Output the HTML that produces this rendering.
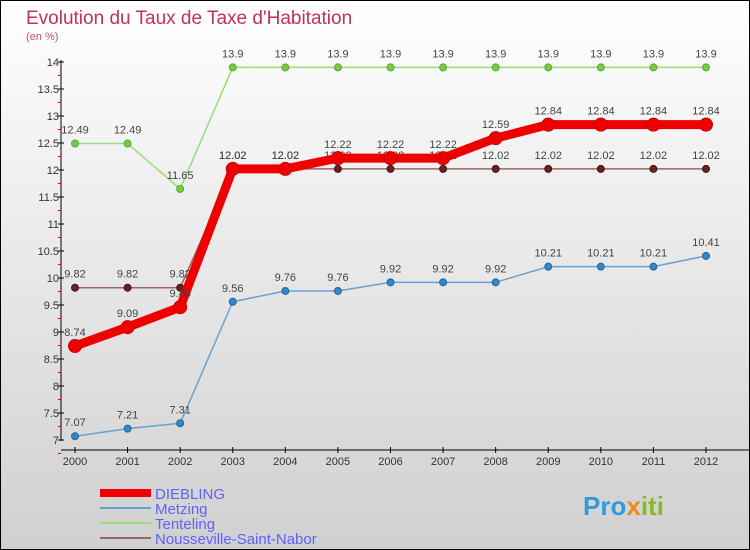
<!DOCTYPE html>
<html><head><meta charset="utf-8"><style>
body{margin:0}
#c{width:750px;height:550px;position:relative;overflow:hidden;font-family:"Liberation Sans",sans-serif}
</style></head><body>
<div id="c">
<svg id="s" width="750" height="550" xmlns="http://www.w3.org/2000/svg">
<defs><linearGradient id="bg" x1="0" y1="0" x2="0" y2="1"><stop offset="0" stop-color="#ffffff"/><stop offset="1" stop-color="#d0d0d0"/></linearGradient></defs>
<rect x="0.5" y="0.5" width="749" height="549" fill="url(#bg)" stroke="#000"/>
<text x="26" y="24" font-size="19" fill="#c03060">Evolution du Taux de Taxe d'Habitation</text>
<text x="26" y="40" font-size="11" fill="#c05080">(en %)</text>
<g id="axes"></g><g id="series"></g>
<g>
<rect x="100" y="489" width="51" height="8" fill="#e00"/>
<text x="155" y="499" font-size="15" fill="#6060ff">DIEBLING</text>
<line x1="100" x2="151" y1="508" y2="508" stroke="#6aa0d0" stroke-width="2"/>
<text x="155" y="514" font-size="15" fill="#6060ff">Metzing</text>
<line x1="100" x2="151" y1="523" y2="523" stroke="#99dd77" stroke-width="2"/>
<text x="155" y="529" font-size="15" fill="#6060ff">Tenteling</text>
<line x1="100" x2="151" y1="538" y2="538" stroke="#996666" stroke-width="2"/>
<text x="155" y="544" font-size="15" fill="#6060ff">Nousseville-Saint-Nabor</text>
</g>
<text x="583" y="515" font-size="26" font-weight="bold" fill="#3399dd">Pro<tspan fill="#ee8822">x</tspan><tspan fill="#88bb22">iti</tspan></text>
</svg>
</div>
<script>
const years=[2000,2001,2002,2003,2004,2005,2006,2007,2008,2009,2010,2011,2012];
const yTicks=[7,7.5,8,8.5,9,9.5,10,10.5,11,11.5,12,12.5,13,13.5,14];
const diebling=[8.74,9.09,9.46,12.02,12.02,12.22,12.22,12.22,12.59,12.84,12.84,12.84,12.84];
const metzing=[7.07,7.21,7.31,9.56,9.76,9.76,9.92,9.92,9.92,10.21,10.21,10.21,10.41];
const tenteling=[12.49,12.49,11.65,13.9,13.9,13.9,13.9,13.9,13.9,13.9,13.9,13.9,13.9];
const nousseville=[9.82,9.82,9.82,12.02,12.02,12.02,12.02,12.02,12.02,12.02,12.02,12.02,12.02];
const NS="http://www.w3.org/2000/svg";
const xs=i=>75+i*(706-75)/(years.length-1);
const ys=v=>440-(v-7)*54;
function mk(t,a,p){const e=document.createElementNS(NS,t);for(const k in a)e.setAttribute(k,a[k]);p.appendChild(e);return e;}
const ax=document.getElementById('axes'),sg=document.getElementById('series');
let e=mk('line',{x1:61,x2:61,y1:60,y2:441,stroke:'#000'},ax);


e=mk('line',{x1:61,x2:750,y1:450,y2:450,stroke:'#000'},ax);


yTicks.forEach(v=>{const y=ys(v);
mk('line',{x1:58,x2:64,y1:y,y2:y,stroke:'#000'},ax);
mk('line',{x1:58,x2:61,y1:y+13.5,y2:y+13.5,stroke:'#e00'},ax);
const t=mk('text',{x:59,y:y+4,'font-size':11,fill:'#333','text-anchor':'end'},ax);t.textContent=String(v);

});
years.forEach((yr,i)=>{const x=xs(i);
mk('line',{x1:x,x2:x,y1:447,y2:453,stroke:'#000'},ax);
const t=mk('text',{x:x,y:465,'font-size':11,fill:'#333','text-anchor':'middle'},ax);t.textContent=yr;

});
function series(name,vals,col,w,r,dot,stroke){
const g=mk('g',{},sg);


mk('polyline',{points:vals.map((v,i)=>xs(i)+','+ys(v)).join(' '),fill:'none',stroke:col,'stroke-width':w,'stroke-linejoin':'round'},g);
vals.forEach((v,i)=>{const c=mk('circle',{cx:xs(i),cy:ys(v),r:r,fill:dot,stroke:stroke,'stroke-width':1},g);


const t=mk('text',{x:xs(i),y:ys(v)-10,'font-size':11,fill:'#444','text-anchor':'middle'},g);t.textContent=String(v);

});}
series('tenteling',tenteling,'#99dd77',1.5,3.5,'#77cc44','#55aa33');
series('nousseville',nousseville,'#996666',1.5,3.5,'#662222','#441111');
series('metzing',metzing,'#6aa0d0',1.5,3.5,'#3388cc','#226699');
series('diebling',diebling,'#ee0000',9,6.5,'#ee0000','#cc0000');
</script>
</body></html>
